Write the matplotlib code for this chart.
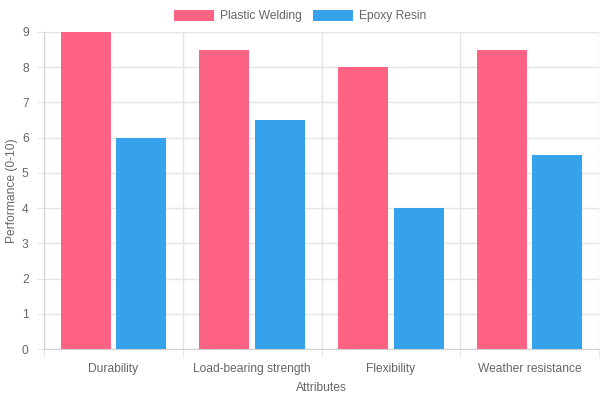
import numpy as np
import matplotlib
matplotlib.use('Agg')
import matplotlib.pyplot as plt
from matplotlib.patches import Patch

plt.rcParams['font.family'] = ['Liberation Sans', 'DejaVu Sans']

categories = ['Durability', 'Load-bearing strength', 'Flexibility', 'Weather resistance']
plastic_welding = [9, 8.5, 8, 8.5]
epoxy_resin = [6, 6.5, 4, 5.5]

pink = '#FF6384'
blue = '#36A2EB'
text_color = '#666666'
grid_color = '#e5e5e5'
fs = 8.64  # 12 px at 100 dpi

fig = plt.figure(figsize=(6, 4), dpi=100)
ax = fig.add_axes([44 / 600, 51 / 400, 555 / 600, 317 / 400])

x = np.arange(len(categories))
cat_w = 0.8
bar_w = cat_w / 2 * 0.9
ax.bar(x - cat_w / 4, plastic_welding, bar_w, color=pink, zorder=3)
ax.bar(x + cat_w / 4, epoxy_resin, bar_w, color=blue, zorder=3)

ax.set_xlim(-0.5, len(categories) - 0.5)
ax.set_ylim(0, 9)
ax.set_yticks(range(0, 10))

ax.set_xticks(x)
ax.set_xticklabels(categories)
ax.set_xticks(np.arange(-0.5, len(categories)), minor=True)
ax.tick_params(axis='x', which='major', length=0, pad=10, labelsize=fs, labelcolor=text_color)
ax.tick_params(axis='x', which='minor', length=6, color=grid_color)
ax.tick_params(axis='y', length=5, color=grid_color, pad=6, labelsize=fs, labelcolor=text_color)

ax.grid(True, axis='y', color=grid_color, linewidth=1, zorder=0)
ax.grid(True, axis='x', which='minor', color=grid_color, linewidth=1, zorder=0)

for side in ['top', 'right']:
    ax.spines[side].set_visible(False)
for side in ['left', 'bottom']:
    ax.spines[side].set_color('#d0d0d0')

ax.set_xlabel('Attributes', color=text_color, fontsize=fs)
ax.xaxis.set_label_coords(0.5, -(388 - 349) / 317, transform=ax.transAxes)
ax.set_ylabel('Performance (0-10)', color=text_color, fontsize=fs)
ax.yaxis.set_label_coords(-(44 - 12) / 555, 0.5, transform=ax.transAxes)
ax.yaxis.label.set_va('center')
ax.xaxis.label.set_va('center')

handles = [Patch(facecolor=pink, label='Plastic Welding'),
           Patch(facecolor=blue, label='Epoxy Resin')]
leg = fig.legend(handles=handles, loc='center', bbox_to_anchor=(0.5, 1 - 16 / 400),
                 ncol=2, frameon=False, fontsize=fs, handlelength=3.33, handleheight=1.0,
                 columnspacing=0.9, handletextpad=0.5)
for t in leg.get_texts():
    t.set_color(text_color)

fig.savefig('out.png', dpi=100)
